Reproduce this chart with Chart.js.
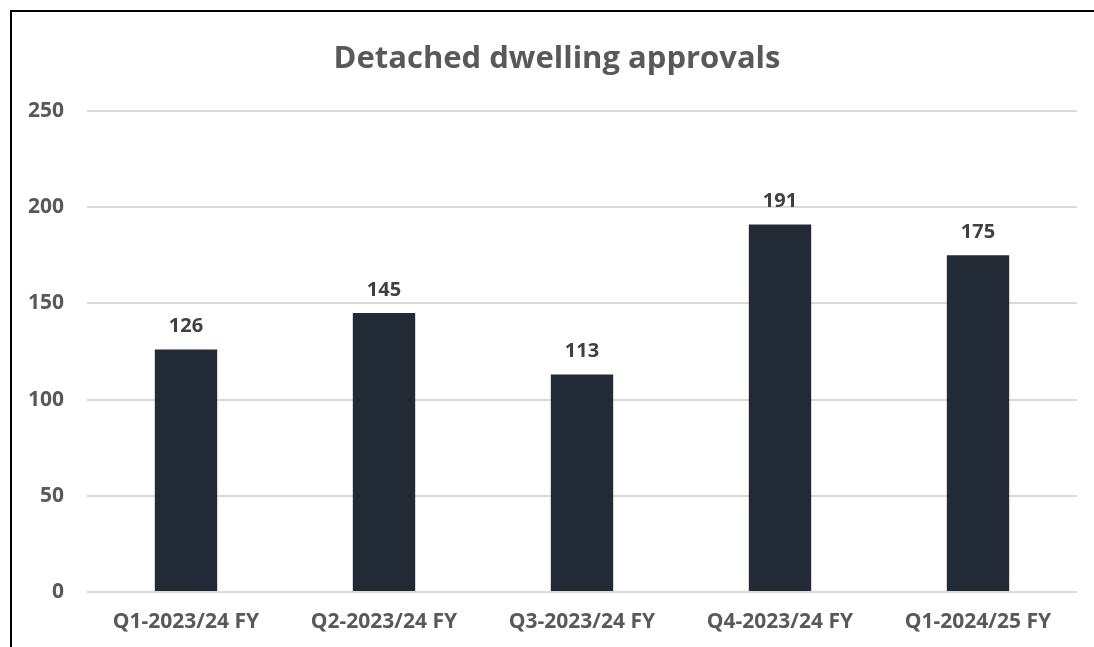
<!DOCTYPE html>
<html>
<head>
<meta charset="UTF-8">
<title>Detached dwelling approvals</title>
<style>
	body {margin: 0; background: #fff; overflow: hidden}
	.frame {position: absolute; left: 10px; top: 10px; width: 1200px; height: 700px; border: 2px solid #000}
	.wrap {position: absolute; left: 0; top: 0; width: 1094px; height: 647px}
</style>
</head>
<body>
	<div class="frame"></div>
	<div class="wrap"><canvas id="myChart" width="1094" height="647"></canvas></div>
<script src="https://cdn.jsdelivr.net/npm/chart.js"></script>
<script>
	// data
	const quarters = ['Q1-2023/24 FY', 'Q2-2023/24 FY', 'Q3-2023/24 FY', 'Q4-2023/24 FY', 'Q1-2024/25 FY'];
	const approvals = [126, 145, 113, 191, 175];
	const yTicks = [0, 50, 100, 150, 200, 250];
	const chartTitle = 'Detached dwelling approvals';

	const font = "'Open Sans', sans-serif";

	// value labels above each bar + title (centred on the whole frame, not the plot)
	const barLabels = {
		id: 'barLabels',
		afterDatasetsDraw(chart) {
			const ctx = chart.ctx;
			ctx.save();
			ctx.font = 'bold 20px ' + font;
			ctx.fillStyle = '#404040';
			ctx.textAlign = 'center';
			ctx.textBaseline = 'middle';
			chart.getDatasetMeta(0).data.forEach(function(bar, i) {
				ctx.fillText(approvals[i], bar.x, bar.y - 23);
			});
			ctx.font = 'bold 31px ' + font;
			ctx.fillStyle = '#595959';
			ctx.fillText(chartTitle, 557, 59);
			ctx.restore();
		}
	};

	new Chart(document.getElementById('myChart'), {
		type: 'bar',
		data: {
			labels: quarters,
			datasets: [{
				data: approvals,
				backgroundColor: '#222a35',
				categoryPercentage: 1,
				barPercentage: 0.315
			}]
		},
		options: {
			responsive: false,
			animation: false,
			layout: {padding: {left: 0, right: 17, top: 111, bottom: 0}},
			plugins: {
				legend: {display: false},
				tooltip: {enabled: false},
				title: {display: false}
			},
			scales: {
				x: {
					grid: {display: false, drawTicks: false},
					border: {display: false},
					ticks: {color: '#595959', font: {family: font, size: 21, weight: 'bold'}, padding: 17, maxRotation: 0},
					afterFit: function(scale) { scale.height = 55; }
				},
				y: {
					min: 0,
					max: 250,
					afterBuildTicks: function(scale) { scale.ticks = yTicks.map(v => ({value: v})); },
					grid: {color: '#d9d9d9', lineWidth: 2, drawTicks: false},
					border: {display: false},
					ticks: {color: '#595959', font: {family: font, size: 21, weight: 'bold'}, padding: 23},
					afterFit: function(scale) { scale.width = 87; }
				}
			}
		},
		plugins: [barLabels]
	});
</script>
</body>
</html>
